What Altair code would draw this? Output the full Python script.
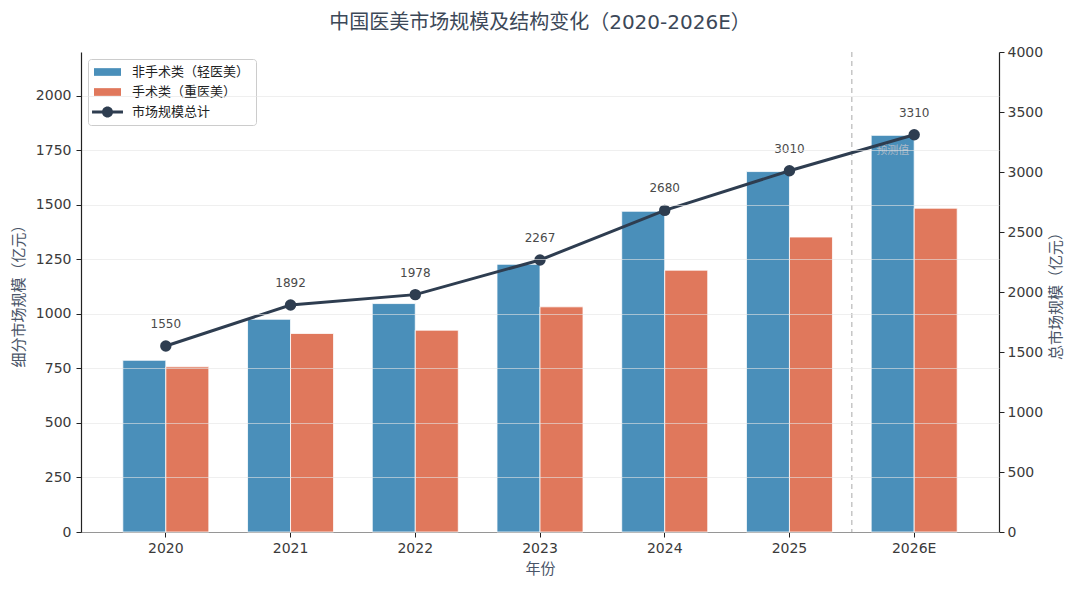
import altair as alt
import pandas as pd

# ---------------- data ----------------
years = ["2020", "2021", "2022", "2023", "2024", "2025", "2026E"]
non_surgical = [787, 975, 1047, 1227, 1470, 1652, 1818]
surgical = [757, 910, 925, 1032, 1200, 1352, 1484]
total = [1550, 1892, 1978, 2267, 2680, 3010, 3310]
series_names = ["非手术类（轻医美）", "手术类（重医美）", "市场规模总计"]
left_ticks = [0, 250, 500, 750, 1000, 1250, 1500, 1750, 2000]
right_ticks = [0, 500, 1000, 1500, 2000, 2500, 3000, 3500, 4000]
forecast_year = "2026E"
forecast_note = "预测值"
chart_title = "中国医美市场规模及结构变化（2020-2026E）"

BLUE = "#4A8FBA"
RED = "#E0785C"
NAVY = "#2E3D50"
FONT = "DejaVu Sans, Noto Sans CJK SC, sans-serif"

bars_df = pd.DataFrame({
    "年份": years * 2,
    "类别": [series_names[0]] * len(years) + [series_names[1]] * len(years),
    "规模": non_surgical + surgical,
})
total_df = pd.DataFrame({"年份": years, "总规模": total})
legend_df = pd.DataFrame({"系列": series_names})
note_df = pd.DataFrame({"年份": [forecast_year], "类别": [series_names[0]],
                        "规模": [non_surgical[-1]], "文本": [forecast_note]})
rule_df = pd.DataFrame({"年份": [forecast_year]})

# ---------------- shared encodings ----------------
x_scale = alt.Scale(domain=years, paddingInner=0, paddingOuter=0.18)
x_axis = alt.Axis(title="年份", labelAngle=0, labelPadding=4, titlePadding=6,
                  grid=False, domainColor="#222", tickColor="#222")


def xenc(**kw):
    return alt.X("年份:N", scale=x_scale, sort=years, axis=x_axis, **kw)


xoff = alt.XOffset("类别:N", sort=series_names[:2],
                   scale=alt.Scale(domain=series_names[:2], paddingInner=0, paddingOuter=0.45))

y_left = alt.Y("规模:Q", scale=alt.Scale(domain=[0, 2200], nice=False),
               axis=alt.Axis(title="细分市场规模（亿元）", values=left_ticks, orient="left", format="d",
                             grid=True, gridColor="#e4e4e4", gridOpacity=0.6, gridWidth=1,
                             zindex=1, labelPadding=5, titlePadding=9))
y_right = alt.Y("总规模:Q", scale=alt.Scale(domain=[0, 4000], nice=False),
                axis=alt.Axis(title="总市场规模（亿元）", values=right_ticks, orient="right", format="d",
                              grid=False, labelPadding=3, titlePadding=6, titleAngle=270,
                              titleBaseline="top"))

# ---------------- left layer (bars) ----------------
bars = alt.Chart(bars_df).mark_bar(stroke="white", strokeWidth=0.8).encode(
    x=xenc(), xOffset=xoff, y=y_left,
    fill=alt.Fill("类别:N", scale=alt.Scale(domain=series_names[:2], range=[BLUE, RED]), legend=None),
)
note = alt.Chart(note_df).mark_text(dy=16, fontSize=11, color="#a9b9c8", font=FONT).encode(
    x=xenc(), xOffset=xoff, y=y_left, text="文本:N"
)
vrule = alt.Chart(rule_df).mark_rule(color="#b8b8b8", strokeDash=[5, 4], strokeWidth=1.2).encode(
    x=xenc(bandPosition=0)
)

rect_path = "M-1,-0.55H2.86V0.55H-1Z"
line_path = ("M-1.28,-0.21H3.14V0.21H-1.28Z"
             "M1.72,0A0.79,0.79,0,1,1,0.14,0A0.79,0.79,0,1,1,1.72,0Z")
leg = alt.Legend(title=None, orient="top-left", offset=7, padding=6, rowPadding=6,
                 symbolSize=196, symbolStrokeWidth=0, symbolOpacity=1, labelOffset=24,
                 labelFontSize=13, labelFont=FONT, labelColor="#222", labelLimit=300,
                 strokeColor="#cccccc", fillColor="white", cornerRadius=3)
legend_carrier = alt.Chart(legend_df).mark_point(filled=True, opacity=0, strokeWidth=0).encode(
    color=alt.Color("系列:N", sort=series_names,
                    scale=alt.Scale(domain=series_names, range=[BLUE, RED, NAVY]), legend=leg),
    shape=alt.Shape("系列:N", sort=series_names,
                    scale=alt.Scale(domain=series_names, range=[rect_path, rect_path, line_path]),
                    legend=leg),
)

left = alt.layer(bars, note, vrule, legend_carrier)

# ---------------- right layer (total line) ----------------
line = alt.Chart(total_df).mark_line(color=NAVY, strokeWidth=3).encode(x=xenc(), y=y_right)
pts = alt.Chart(total_df).mark_circle(color=NAVY, size=130, opacity=1).encode(x=xenc(), y=y_right)
labels = alt.Chart(total_df).mark_text(dy=-22, fontSize=12, color="#4a4a4a", font=FONT).encode(
    x=xenc(), y=y_right, text="总规模:Q"
)
right = alt.layer(line, pts, labels)

chart = (
    alt.layer(left, right)
    .resolve_scale(y="independent")
    .properties(
        width=918, height=480,
        title=alt.TitleParams(chart_title),
        autosize=alt.AutoSizeParams(type="none"),
        padding={"left": 73, "top": 44, "right": 72, "bottom": 45},
    )
    .configure_view(stroke=None)
    .configure_axis(domainColor="#222", domainWidth=1.2, tickColor="#222", tickSize=5,
                    labelFont=FONT, labelFontSize=14, labelColor="#3a3a3a",
                    titleFont=FONT, titleFontSize=15, titleColor="#4a5568",
                    titleFontWeight="normal")
    .configure_title(font=FONT, fontSize=20, color="#3c4858", fontWeight="normal",
                     offset=12, anchor="middle")
)

chart.save("out.html", embed_options={"renderer": "svg", "actions": False})
